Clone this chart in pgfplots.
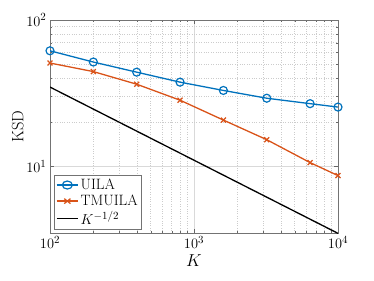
\documentclass[border=0pt]{standalone}
\usepackage{pgfplots}
\pgfplotsset{compat=1.18}
\definecolor{mblue}{rgb}{0,0.447,0.741}
\definecolor{morange}{rgb}{0.85,0.325,0.098}
\begin{document}
\begin{tikzpicture}
\begin{axis}[
  scale only axis, width=288pt, height=213pt,
  xmode=log, ymode=log,
  xmin=100, xmax=10000, ymin=3.5, ymax=100,
  axis line style={black!55},
  tick style={black!60},
  tick align=inside,
  major tick length=4pt, minor tick length=2.5pt,
  grid=both,
  major grid style={black!15, line width=0.4pt},
  minor grid style={black!20, dotted, line width=0.4pt},
  xlabel={$K$}, ylabel={KSD},
  label style={font=\fontsize{16.5}{19}\selectfont},
  tick label style={font=\fontsize{15}{17}\selectfont},
  xtick={100,1000,10000}, ytick={10,100},
  ylabel style={yshift=-4pt},
  xlabel style={yshift=1pt},
  legend style={at={(0.015,0.015)}, anchor=south west, draw=black!55, font=\fontsize{15}{17}\selectfont, inner sep=1.5pt, row sep=0pt, cells={anchor=west}},
  legend cell align=left,
  legend image post style={xscale=1.25},
]
\addplot[mblue, line width=1.3pt, mark=o, mark size=4pt, mark options={line width=1.2pt}] coordinates {
(100,61.6) (200,51.6) (400,44.0) (800,37.6) (1600,33.0) (3200,29.2) (6400,26.8) (10000,25.4)};
\addlegendentry{UILA}
\addplot[morange, line width=1.3pt, mark=x, mark size=3.5pt, mark options={line width=1.2pt}] coordinates {
(100,50.8) (200,44.4) (400,36.4) (800,28.3) (1600,20.7) (3200,15.2) (6400,10.6) (10000,8.64)};
\addlegendentry{TMUILA}
\addplot[black, line width=1.3pt] coordinates {(100,34.8) (10000,3.48)};
\addlegendentry{$K^{-1/2}$}
\end{axis}
\pgfresetboundingbox
\useasboundingbox ([xshift=-50pt,yshift=-47pt]current axis.south west) rectangle ([xshift=36pt,yshift=20pt]current axis.north east);
\end{tikzpicture}
\end{document}
